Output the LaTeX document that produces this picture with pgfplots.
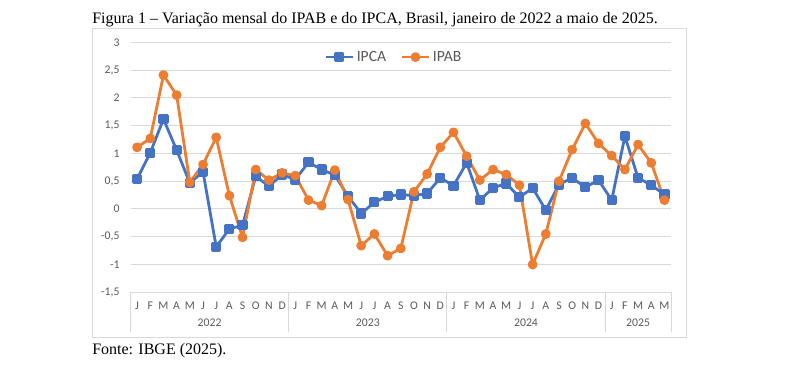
\documentclass[border=0pt]{standalone}
\usepackage{pgfplots}
\pgfplotsset{compat=1.18}
\usepackage{fontspec}
\setmainfont{Liberation Serif}
\newfontfamily\calibri{Carlito}
\definecolor{ipca}{HTML}{4472C4}
\definecolor{ipab}{HTML}{ED7D31}
\definecolor{gridc}{HTML}{D9D9D9}
\definecolor{txt}{HTML}{595959}
\begin{document}
\begin{tikzpicture}[x=0.75pt,y=0.75pt]
\path[use as bounding box] (0,0) rectangle (789,367);
\draw[gridc, line width=0.75pt] (92.5,29) rectangle (686,338.5);
\node[anchor=base west, inner sep=0pt, font=\fontsize{12}{14}\selectfont] at (92,343) {Figura 1 – Variação mensal do IPAB e do IPCA, Brasil, janeiro de 2022 a maio de 2025.};
\node[anchor=base west, inner sep=0pt, font=\fontsize{12}{14}\selectfont] at (92,12) {Fonte: IBGE (2025).};
\begin{axis}[
  at={(97.875pt,56.0pt)}, anchor=south west,
  scale only axis, width=405.4pt, height=187.5pt,
  xmin=-0.5, xmax=40.5, ymin=-1.5, ymax=3,
  axis line style={draw=none}, tick style={draw=none},
  ymajorgrids, grid style={gridc, line width=0.75pt},
  ytick={-1.5,-1,-0.5,0,0.5,1,1.5,2,2.5,3},
  yticklabels={{-1,5},{-1},{-0,5},{0},{0,5},{1},{1,5},{2},{2,5},{3}},
  xtick={0,...,40},
  xticklabels={J,F,M,A,M,J,J,A,S,O,N,D,J,F,M,A,M,J,J,A,S,O,N,D,J,F,M,A,M,J,J,A,S,O,N,D,J,F,M,A,M},
  ticklabel style={font=\calibri\fontsize{8.8}{10}\selectfont, text=txt},
  xticklabel style={anchor=center, yshift=-10.3pt},
  yticklabel style={anchor=east, inner sep=0pt, xshift=-8pt},
  clip=false,
  legend style={at={(0.488,0.941)}, anchor=center, draw=none, fill=none,
    legend columns=2, font=\calibri\fontsize{11.7}{14}\selectfont, text=txt,
    /tikz/every even column/.append style={column sep=9pt}},
  legend image code/.code={\draw[mark repeat=2,mark phase=2,#1] plot coordinates {(0pt,0pt)(10pt,0pt)(20pt,0pt)};},
]
\addplot[ipca, line width=2.1pt, line join=round, mark=square*, mark size=2.75pt, mark options={solid}] coordinates {
(0,0.54)(1,1.01)(2,1.62)(3,1.06)(4,0.47)(5,0.67)(6,-0.68)(7,-0.36)(8,-0.29)(9,0.59)(10,0.41)(11,0.62)
(12,0.53)(13,0.84)(14,0.71)(15,0.61)(16,0.23)(17,-0.08)(18,0.12)(19,0.23)(20,0.26)(21,0.24)(22,0.28)(23,0.56)
(24,0.42)(25,0.83)(26,0.16)(27,0.38)(28,0.46)(29,0.21)(30,0.38)(31,-0.02)(32,0.44)(33,0.56)(34,0.39)(35,0.52)
(36,0.16)(37,1.31)(38,0.56)(39,0.43)(40,0.26)};
\addlegendentry{IPCA}
\addplot[ipab, line width=2.1pt, line join=round, mark=*, mark size=2.6pt, mark options={solid}] coordinates {
(0,1.11)(1,1.27)(2,2.41)(3,2.05)(4,0.48)(5,0.80)(6,1.29)(7,0.24)(8,-0.51)(9,0.71)(10,0.52)(11,0.65)
(12,0.60)(13,0.16)(14,0.06)(15,0.70)(16,0.17)(17,-0.66)(18,-0.45)(19,-0.84)(20,-0.71)(21,0.31)(22,0.63)(23,1.11)
(24,1.38)(25,0.95)(26,0.52)(27,0.71)(28,0.62)(29,0.43)(30,-1.00)(31,-0.45)(32,0.50)(33,1.07)(34,1.54)(35,1.18)
(36,0.96)(37,0.71)(38,1.16)(39,0.83)(40,0.16)};
\addlegendentry{IPAB}
\draw[gridc, line width=0.75pt] (axis cs:-0.5,-1.5) -- ++(0pt,-29.6pt);
\draw[gridc, line width=0.75pt] (axis cs:11.5,-1.5) -- ++(0pt,-29.6pt);
\draw[gridc, line width=0.75pt] (axis cs:23.5,-1.5) -- ++(0pt,-29.6pt);
\draw[gridc, line width=0.75pt] (axis cs:35.5,-1.5) -- ++(0pt,-29.6pt);
\draw[gridc, line width=0.75pt] (axis cs:40.5,-1.5) -- ++(0pt,-29.6pt);
\node[font=\calibri\fontsize{8.8}{10}\selectfont, text=txt] at (axis cs:5.5,-1.5) [yshift=-23pt] {2022};
\node[font=\calibri\fontsize{8.8}{10}\selectfont, text=txt] at (axis cs:17.5,-1.5) [yshift=-23pt] {2023};
\node[font=\calibri\fontsize{8.8}{10}\selectfont, text=txt] at (axis cs:29.5,-1.5) [yshift=-23pt] {2024};
\node[font=\calibri\fontsize{8.8}{10}\selectfont, text=txt] at (axis cs:38,-1.5) [yshift=-23pt] {2025};
\end{axis}
\end{tikzpicture}
\end{document}
